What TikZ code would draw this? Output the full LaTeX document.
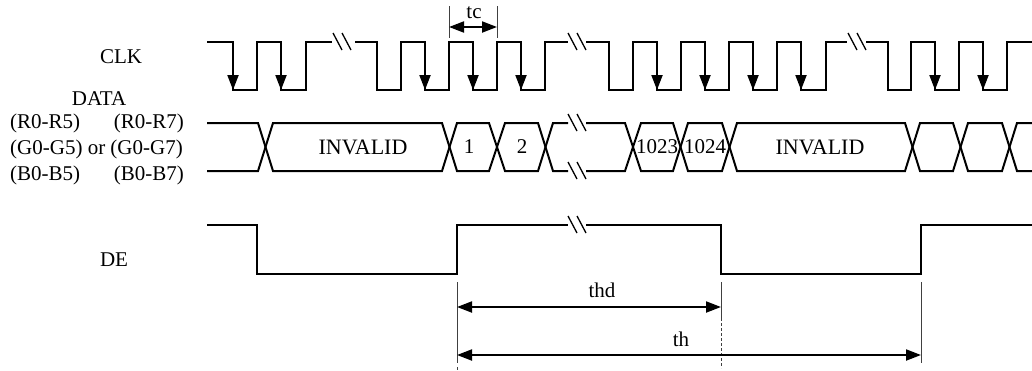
\documentclass[tikz,border=0pt]{standalone}
\usepackage{fontspec}
\setmainfont{Liberation Serif}
\usetikzlibrary{arrows.meta}
\tikzset{
	wave/.style = {line width=2pt, line join=miter},
	dim/.style = {line width=2pt, <->},
	tick/.style = {line width=0.9pt, black!75},
	lbl/.style = {inner sep=0pt, font=\fontsize{21}{21}\selectfont},
	big/.style = {inner sep=0pt, font=\fontsize{22}{22}\selectfont},
	brk/.pic = {\draw[line width=1.3pt] (-9,-9) -- (0,8) (0,-9) -- (9,8);}
}
\begin{document}
\begin{tikzpicture}[x=1pt, y=-1pt, >={Triangle[length=15pt, width=11pt]}]
	\useasboundingbox (0,0) rectangle (1032,370);

	\node[lbl] (clk) at (121,57) {CLK};
	\node[lbl] (data) at (99,99) {DATA};
	\node[lbl, anchor=west] (r5) at (10,123) {(R0-R5)};
	\node[lbl, anchor=west] (g5) at (10,149) {(G0-G5) or (G0-G7)};
	\node[lbl, anchor=west] (b5) at (10,175) {(B0-B5)};
	\node[lbl, anchor=east] (r7) at (184,123) {(R0-R7)};
	\node[lbl, anchor=east] (b7) at (184,175) {(B0-B7)};
	\node[lbl] (de) at (114,260) {DE};

	% clock
	\draw[wave] (207,42) -| (233,90) -| (257,42) -| (281,90) -| (306,42) -- (332,42);
	\draw[wave] (355,42) -| (377,90) -| (401,42) -| (425,90) -| (449,42) -| (473,90) -| (497,42) -| (521,90) -| (545,42) -- (568,42);
	\draw[wave] (586,42) -| (609,90) -| (633,42) -| (657,90) -| (681,42) -| (705,90) -| (729,42) -| (753,90) -| (777,42) -| (801,90) -| (826,42) -- (847,42);
	\draw[wave] (866,42) -| (888,90) -| (911,42) -| (935,90) -| (959,42) -| (983,90) -| (1007,42) -- (1032,42);
	\pic at (342,42) {brk};
	\pic at (577,42) {brk};
	\pic at (857,42) {brk};

	\draw[wave, ->] (233,60) -- (233,90);
	\draw[wave, ->] (281,60) -- (281,90);
	\draw[wave, ->] (425,60) -- (425,90);
	\draw[wave, ->] (473,60) -- (473,90);
	\draw[wave, ->] (521,60) -- (521,90);
	\draw[wave, ->] (657,60) -- (657,90);
	\draw[wave, ->] (705,60) -- (705,90);
	\draw[wave, ->] (753,60) -- (753,90);
	\draw[wave, ->] (801,60) -- (801,90);
	\draw[wave, ->] (935,60) -- (935,90);
	\draw[wave, ->] (983,60) -- (983,90);

	% data bus
	\draw[wave] (207,123) -- (258,123) -- (273,171) -- (442,171) -- (457,123) -- (489,123) -- (505,171) -- (538,171) -- (553,123) -- (568,123);
	\draw[wave] (207,171) -- (258,171) -- (273,123) -- (442,123) -- (457,171) -- (489,171) -- (505,123) -- (538,123) -- (553,171) -- (568,171);
	\draw[wave] (586,123) -- (625,123) -- (641,171) -- (673,171) -- (688,123) -- (722,123) -- (737,171) -- (905,171) -- (920,123) -- (953,123) -- (968,171) -- (1002,171) -- (1017,123) -- (1032,123);
	\draw[wave] (586,171) -- (625,171) -- (641,123) -- (673,123) -- (688,171) -- (722,171) -- (737,123) -- (905,123) -- (920,171) -- (953,171) -- (968,123) -- (1002,123) -- (1017,171) -- (1032,171);
	\pic at (577,123) {brk};
	\pic at (577,171) {brk};

	\node[big] (inv1) at (363,147) {INVALID};
	\node[lbl] (one) at (469,147) {1};
	\node[lbl] (two) at (522,147) {2};
	\node[lbl] (n1023) at (657,147) {1023};
	\node[lbl] (n1024) at (705,147) {1024};
	\node[big] (inv2) at (820,147) {INVALID};

	% data enable
	\draw[wave] (207,225) -| (257,274) -| (457,225) -- (568,225);
	\draw[wave] (586,225) -| (721,274) -| (921,225) -- (1032,225);
	\pic at (577,225) {brk};

	% timing marks
	\coordinate (tca) at (449,6);
	\coordinate (tcb) at (497,6);
	\coordinate (tcc) at (449,38);
	\coordinate (tcd) at (497,38);
	\draw[tick] (tca) -- (tcc);
	\draw[tick] (tcb) -- (tcd);
	\coordinate (tcl) at (449,27);
	\coordinate (tcr) at (497,27);
	\draw[dim] (tcl) -- node[lbl, pos=0.5, xshift=1pt, yshift=14pt] (tc) {tc} (tcr);

	\coordinate (da) at (457,282);
	\coordinate (db) at (721,282);
	\coordinate (dc) at (921,282);
	\coordinate (dd) at (457,363);
	\coordinate (dg) at (457,367);
	\coordinate (dh) at (457,370);
	\coordinate (de1) at (721,318);
	\coordinate (de2) at (721,368);
	\coordinate (df) at (921,363);
	\draw[tick] (da) -- (dd);
	\draw[tick] (dg) -- (dh);
	\draw[tick] (db) -- (de1);
	\draw[tick, densely dashed] (de1) -- (de2);
	\draw[tick] (dc) -- (df);

	\coordinate (thdl) at (457,307);
	\coordinate (thdr) at (721,307);
	\coordinate (thl) at (457,355);
	\coordinate (thr) at (921,355);
	\draw[dim] (thdl) -- (thdr);
	\draw[dim] (thl) -- (thr);
	\node[lbl] (thd) at (602,290) {thd};
	\node[lbl] (th) at (681,339) {th};
\end{tikzpicture}
\end{document}
